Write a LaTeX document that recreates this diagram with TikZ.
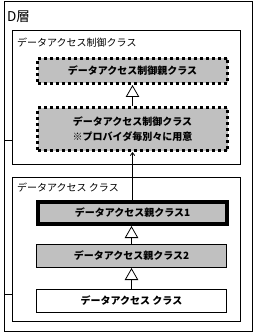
\documentclass[tikz,border=0pt]{standalone}
\usepackage{fontspec}
\setmainfont{Noto Sans CJK JP}
\usetikzlibrary{arrows.meta}
\definecolor{boxgray}{RGB}{192,192,192}
\tikzset{
  frame/.style={draw=black, line width=1pt},
  grp/.style={anchor=west, inner sep=0pt, font=\fontsize{10}{12}\selectfont},
  cls/.style={fill=boxgray, inner sep=0pt, align=center, font=\bfseries\fontsize{10}{15}\selectfont},
  dotbox/.style={cls, draw=black, line width=3pt, dash pattern=on 3pt off 3pt},
  thickbox/.style={cls, draw=black, line width=4pt},
  thinbox/.style={cls, draw=black, line width=1pt},
  inherit/.style={draw=black, line width=0.8pt, -{Triangle[open, width=13.5pt, length=12pt, line width=0.8pt, fill=white]}},
  uses/.style={draw=black, line width=0.8pt, -{Straight Barb[length=3pt, width=4.5pt, line width=0.8pt]}},
}
\begin{document}
\begin{tikzpicture}[x=1pt,y=-1pt]
\useasboundingbox (0,0) rectangle (256,334);
% frames
\draw[frame] (4,1.5) rectangle (252,331);
\draw[frame] (12,31) rectangle (240,164);
\draw[frame] (12,177) rectangle (240,321);
\coordinate (s1a) at (4,140); \coordinate (s1b) at (12,140);
\coordinate (s2a) at (4,294); \coordinate (s2b) at (12,294);
\draw[frame] (s1a) -- (s1b);
\draw[frame] (s2a) -- (s2b);
% labels
\node[anchor=west, inner sep=0pt, font=\fontsize{13.5}{15}\selectfont] (lay) at (7,17) {D層};
\node[grp] (g1) at (17,43) {データアクセス制御クラス};
\node[grp] (g2) at (17,188) {データアクセス クラス};
% classes
\node[dotbox, minimum width=190pt, minimum height=25pt] (A) at (132.5,71) {データアクセス制御親クラス};
\node[dotbox, minimum width=190pt, minimum height=43pt] (B) at (132.5,129) {データアクセス制御クラス\\※プロバイダ毎別々に用意};
\node[thickbox, minimum width=189pt, minimum height=22pt] (C) at (132.5,213) {データアクセス親クラス1};
\node[thinbox, minimum width=190pt, minimum height=23pt] (D) at (131.5,256) {データアクセス親クラス2};
\node[thinbox, fill=white, minimum width=190pt, minimum height=23pt] (E) at (131.5,301) {データアクセス クラス};
% connectors
\draw[inherit] (B.north) -- (A.south);
\draw[uses] (C.north -| B.south) -- (B.south);
\draw[inherit] (D.north) -- (D.north |- C.south);
\draw[inherit] (E.north) -- (D.south);
\end{tikzpicture}
\end{document}
